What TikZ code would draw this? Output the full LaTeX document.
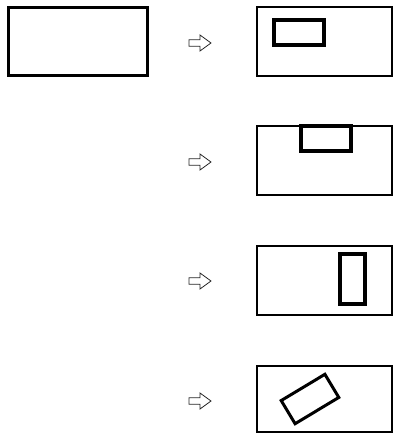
\documentclass[tikz,border=0pt]{standalone}
\begin{document}
\begin{tikzpicture}[x=1pt,y=-1pt,
  frame/.style={draw=black,line width=2pt,inner sep=0pt,minimum width=135pt,minimum height=69pt},
  bigframe/.style={draw=black,line width=3pt,inner sep=0pt,minimum width=139pt,minimum height=68pt},
  part/.style={draw=black,line width=4pt,inner sep=0pt},
  arrowsym/.style={draw=black!85,line width=0.8pt,line join=miter}]
\useasboundingbox (0,0) rectangle (395,434);
\newcommand\hollowarrow[1]{\draw[arrowsym] (#1) ++(-11,-3.2) -- ++(11,0) -- ++(0,-4.8) -- ++(11,8) -- ++(-11,8) -- ++(0,-4.8) -- ++(-11,0) -- cycle;}
% source
\node[bigframe] (src) at (78,41.5) {};
% arrows
\coordinate (a1) at (200,43);
\coordinate (a2) at (200,162);
\coordinate (a3) at (200,281);
\coordinate (a4) at (200,401);
\hollowarrow{a1}
\hollowarrow{a2}
\hollowarrow{a3}
\hollowarrow{a4}
% targets
\node[frame] (t1) at (324.5,41.5) {};
\node[frame] (t2) at (324.5,160.5) {};
\node[frame] (t3) at (324.5,280.5) {};
\node[frame,minimum height=66pt] (t4) at (324.5,399) {};
% parts
\node[part,minimum width=50pt,minimum height=25pt] (p1) at (299,32.5) {};
\node[part,minimum width=50pt,minimum height=25pt] (p2) at (326,138.5) {};
\node[part,minimum width=25pt,minimum height=50pt] (p3) at (352.5,279) {};
\node[part,line width=3pt,minimum width=51pt,minimum height=27pt,rotate=31] (p4) at (310,399) {};
\end{tikzpicture}
\end{document}
